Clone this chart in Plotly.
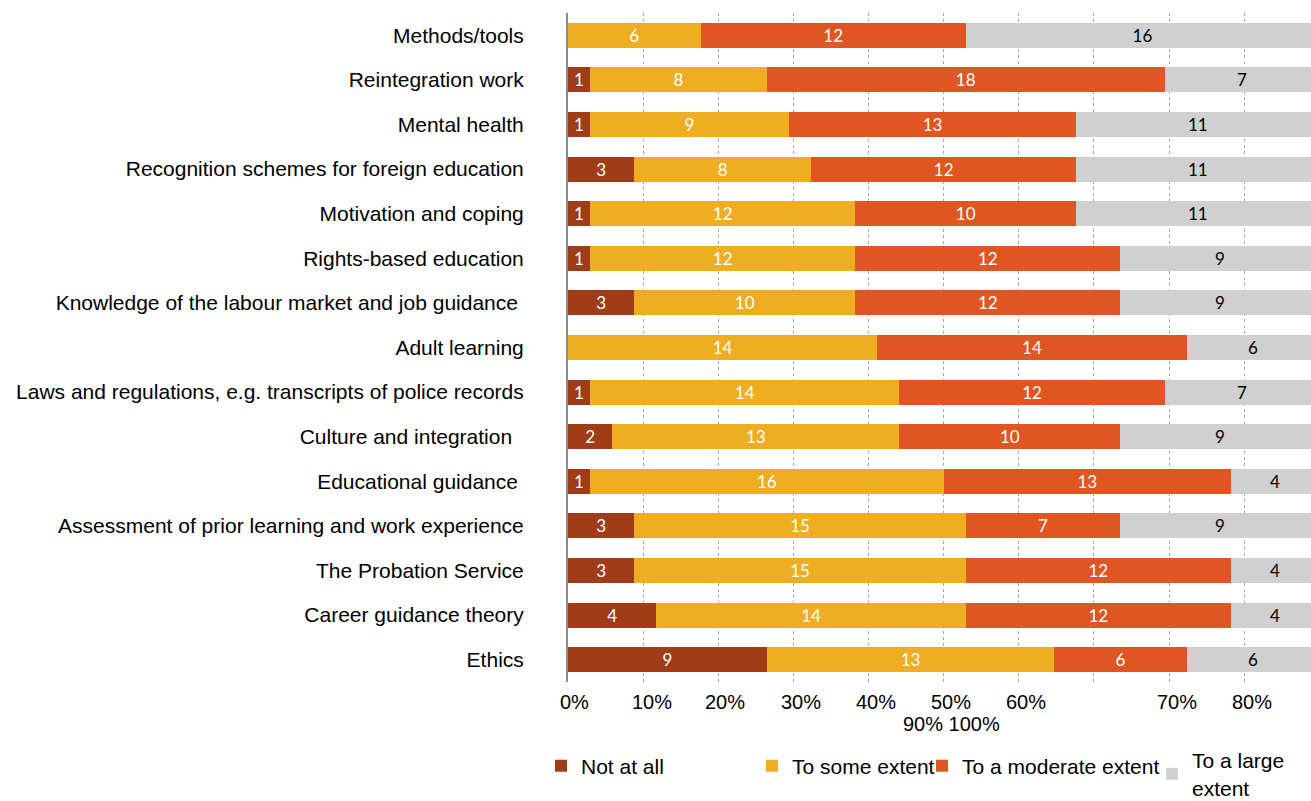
import plotly.graph_objects as go

# Survey topics (top to bottom)
categories = [
    "Methods/tools",
    "Reintegration work",
    "Mental health",
    "Recognition schemes for foreign education",
    "Motivation and coping",
    "Rights-based education",
    "Knowledge of the labour market and job guidance\u00a0",
    "Adult learning",
    "Laws and regulations, e.g. transcripts of police records",
    "Culture and integration\u00a0\u00a0",
    "Educational guidance\u00a0",
    "Assessment of prior learning and work experience",
    "The Probation Service",
    "Career guidance theory",
    "Ethics",
]

# Number of respondents per answer
not_at_all = [0, 1, 1, 3, 1, 1, 3, 0, 1, 2, 1, 3, 3, 4, 9]
some_extent = [6, 8, 9, 8, 12, 12, 10, 14, 14, 13, 16, 15, 15, 14, 13]
moderate_extent = [12, 18, 13, 12, 10, 12, 12, 14, 12, 10, 13, 7, 12, 12, 6]
large_extent = [16, 7, 11, 11, 11, 9, 9, 6, 7, 9, 4, 9, 4, 4, 6]

series_names = ["Not at all", "To some extent", "To a moderate extent", "To a large<br>extent"]
series_colors = ["#A03C17", "#EFAD22", "#DF5622", "#D0D0D0"]
label_colors = ["white", "white", "white", "black"]

# Percent-axis labels as laid out under the chart
tick_labels = ["0%", "10%", "20%", "30%", "40%", "50%", "60%", "70%", "80%"]
tick_pos = [0.8, 11.2, 20.9, 31.0, 41.0, 51.0, 61.0, 81.0, 91.0]
tick_labels_row2 = "90% 100%"
tick_pos_row2 = 51.1

# Plot-area geometry in pixels (used to place legends / axis text)
FIG_W, FIG_H = 1311, 801
M_L, M_R, M_T, M_B = 568, 0, 13, 119
PLOT_W = FIG_W - M_L - M_R
PLOT_H = FIG_H - M_T - M_B


def px_to_paper_x(px):
    return (px - M_L) / PLOT_W


def px_to_paper_y(py):
    return (FIG_H - M_B - py) / PLOT_H


AXIS_FONT = dict(family="Liberation Sans, Arial, sans-serif", size=20, color="#000")
LEGEND_FONT = dict(family="Liberation Sans, Arial, sans-serif", size=21, color="#000")

legend_ids = ["legend", "legend2", "legend3", "legend4"]
legend_left_px = [541, 752, 922, 1152]
legend_mid_px = [766, 766, 766, 774]

fig = go.Figure()
for name, vals, col, tcol, lid in zip(
    series_names,
    [not_at_all, some_extent, moderate_extent, large_extent],
    series_colors,
    label_colors,
    legend_ids,
):
    fig.add_trace(
        go.Bar(
            y=categories,
            x=vals,
            orientation="h",
            name=name,
            legend=lid,
            marker=dict(color=col, line=dict(width=0)),
            text=[str(v) if v else "" for v in vals],
            textposition="inside",
            insidetextanchor="middle",
            textangle=0,
            constraintext="none",
            textfont=dict(family="Lato, Open Sans, sans-serif", size=17, color=tcol),
            cliponaxis=True,
        )
    )

annotations = []
for lbl, pos in zip(tick_labels, tick_pos):
    annotations.append(
        dict(
            x=pos, y=px_to_paper_y(701.5), xref="x", yref="paper",
            text=lbl, showarrow=False, xanchor="center", yanchor="middle",
            font=AXIS_FONT,
        )
    )
annotations.append(
    dict(
        x=tick_pos_row2, y=px_to_paper_y(723.5), xref="x", yref="paper",
        text=tick_labels_row2, showarrow=False, xanchor="center", yanchor="middle",
        font=AXIS_FONT,
    )
)

legend_layout = {}
for lid, lx, ly in zip(legend_ids, legend_left_px, legend_mid_px):
    legend_layout[lid] = dict(
        orientation="h",
        x=px_to_paper_x(lx),
        y=px_to_paper_y(ly),
        xanchor="left",
        yanchor="middle",
        bgcolor="rgba(0,0,0,0)",
        font=LEGEND_FONT,
    )

fig.update_layout(
    width=FIG_W,
    height=FIG_H,
    barmode="stack",
    barnorm="percent",
    bargap=0.44,
    paper_bgcolor="white",
    plot_bgcolor="white",
    margin=dict(l=M_L, r=M_R, t=M_T, b=M_B, autoexpand=False),
    annotations=annotations,
    showlegend=True,
    xaxis=dict(
        range=[0, 98.9],
        dtick=10,
        showgrid=True,
        gridcolor="#A6A6A6",
        griddash="dot",
        gridwidth=1,
        showticklabels=False,
        zeroline=False,
        showline=False,
        fixedrange=True,
    ),
    yaxis=dict(
        autorange="reversed",
        showline=True,
        linecolor="#8C8C8C",
        linewidth=2,
        ticks="",
        ticklabelstandoff=38,
        automargin=False,
        tickfont=dict(family="Liberation Sans, Arial, sans-serif", size=21, color="#000"),
        showgrid=False,
    ),
    **legend_layout,
)

fig.write_html("out.html")
